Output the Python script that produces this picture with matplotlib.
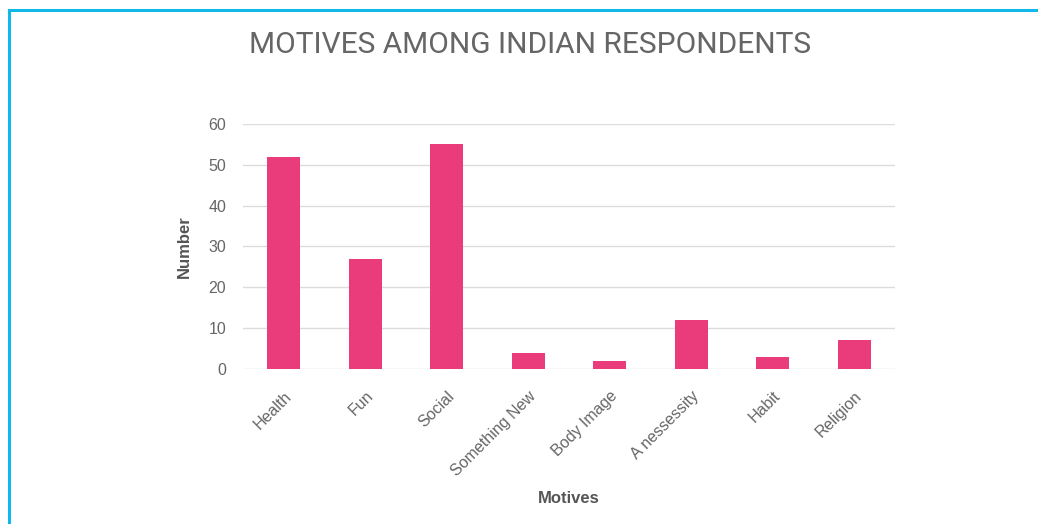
import matplotlib.pyplot as plt
from matplotlib.patches import Rectangle

# Survey answers: why respondents exercise
motives = ['Health', 'Fun', 'Social', 'Something New', 'Body Image',
           'A nessessity', 'Habit', 'Religion']
counts = [52, 27, 55, 4, 2, 12, 3, 7]
y_ticks = [0, 10, 20, 30, 40, 50, 60]

bar_color = '#ea3c7a'
text_color = '#666666'
grid_color = '#dcdcdc'

fig = plt.figure(figsize=(10.38, 5.24), dpi=100)
ax = fig.add_axes([0.2341, 0.2958, 0.6281, 0.4676])

x = range(len(motives))
ax.bar(x, counts, width=0.4, color=bar_color, zorder=3)

ax.set_xlim(-0.5, len(motives) - 0.5)
ax.set_ylim(0, 60)
ax.set_yticks(y_ticks)
ax.set_xticks(list(x))
ax.set_xticklabels(motives, rotation=45, ha='right', va='top',
                   rotation_mode='anchor', fontsize=11.5, color=text_color,
                   family='Liberation Sans')
for lbl in ax.get_yticklabels():
    lbl.set_fontsize(11.5)
    lbl.set_color(text_color)
    lbl.set_family('Liberation Sans')

ax.tick_params(axis='both', length=0)
ax.tick_params(axis='y', pad=12)
ax.tick_params(axis='x', pad=14)
ax.grid(axis='y', color=grid_color, linewidth=1, zorder=0)
for side in ax.spines:
    ax.spines[side].set_visible(False)

ax.set_ylabel('Number', fontsize=12, fontweight='bold', color='#555555',
              family='Liberation Sans', labelpad=12)
ax.set_xlabel('Motives', fontsize=12, fontweight='bold', color='#555555',
              family='Liberation Sans', labelpad=9)

fig.text(0.511, 0.915, 'MOTIVES AMONG INDIAN RESPONDENTS', ha='center',
         va='center', fontsize=21.5, color='#666666',
         family=['Roboto', 'DejaVu Sans'])

# light blue frame around the card
fig.add_artist(Rectangle((9 / 1038, -0.1), 1.2, 1 - 9.5 / 524 + 0.1,
                         transform=fig.transFigure, fill=False,
                         edgecolor='#12b8ea', linewidth=2.2))

fig.savefig('out.png', dpi=100)
